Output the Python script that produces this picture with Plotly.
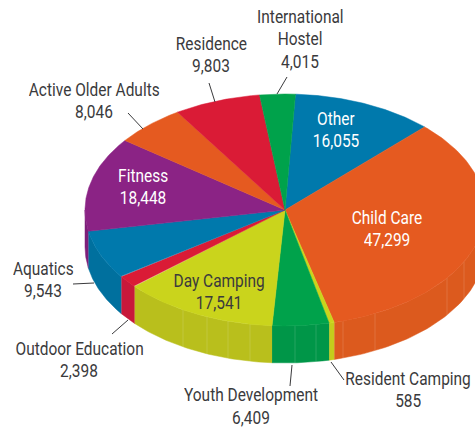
import numpy as np
import plotly.graph_objects as go

categories = ["Other", "Child Care", "Resident Camping", "Youth Development", "Day Camping",
              "Outdoor Education", "Aquatics", "Fitness", "Active Older Adults", "Residence",
              "International Hostel"]
values = [16055, 47299, 585, 6409, 17541, 2398, 9543, 18448, 8046, 9803, 4015]
top_colors = ["#0079AC", "#E55A20", "#CAD41C", "#00A24B", "#CAD41C", "#DA1B36",
              "#0079AC", "#8B2385", "#E55A20", "#DA1B36", "#00A24B"]
side_colors = ["#00709E", "#DC5A1E", "#C4CC1C", "#009648", "#B9BF1C", "#C8183A",
               "#00709E", "#7E1F7A", "#DC5A1E", "#C8183A", "#009648"]
label_lines = {
    "Other": ["Other", "16,055"], "Child Care": ["Child Care", "47,299"],
    "Resident Camping": ["Resident Camping", "585"], "Youth Development": ["Youth Development", "6,409"],
    "Day Camping": ["Day Camping", "17,541"], "Outdoor Education": ["Outdoor Education", "2,398"],
    "Aquatics": ["Aquatics", "9,543"], "Fitness": ["Fitness", "18,448"],
    "Active Older Adults": ["Active Older Adults", "8,046"], "Residence": ["Residence", "9,803"],
    "International Hostel": ["International", "Hostel", "4,015"],
}
label_pos = {
    "Other": (336, 130, "#FFFFFF"), "Child Care": (387, 229, "#FFFFFF"),
    "Resident Camping": (408, 390, "#3A3A3C"), "Youth Development": (251, 406.5, "#3A3A3C"),
    "Day Camping": (219, 292, "#3A3A3C"), "Outdoor Education": (79, 360, "#3A3A3C"),
    "Aquatics": (43, 280, "#3A3A3C"), "Fitness": (143, 187, "#FFFFFF"),
    "Active Older Adults": (94, 101, "#3A3A3C"), "Residence": (211, 55, "#3A3A3C"),
    "International Hostel": (300, 39, "#3A3A3C"),
}
leaders = [(287, 77, 277, 94), (209, 83, 215, 102), (128, 113, 143, 129), (73, 284, 94, 283),
           (112, 334, 128, 320), (292, 365, 290, 386), (331, 362, 344, 380)]
seam_x = [183, 207, 228, 250, 295, 316, 343, 375, 447, 464]

CX, CY, RX, RY, DEPTH, START = 285, 210, 200, 116, 37, 3.0
LINE_GAP = 22.5


def px(t):
    return CX + RX * np.sin(np.radians(t))


def py(t):
    return CY - RY * np.cos(np.radians(t))


fig = go.Figure()
edges = START + np.concatenate([[0], np.cumsum(values)]) / sum(values) * 360

for i, c in enumerate(side_colors):
    a, b = max(edges[i], 90), min(edges[i + 1], 270)
    if b <= a:
        continue
    t = np.linspace(a, b, 60)
    xs = np.concatenate([px(t), px(t[::-1])])
    ys = np.concatenate([py(t), py(t[::-1]) + DEPTH])
    fig.add_trace(go.Scatter(x=xs, y=ys, mode="lines", fill="toself", fillcolor=c,
                             line=dict(color=c, width=0.5), hoverinfo="skip"))

for sx in seam_x:
    dy = RY * np.sqrt(1 - ((sx - CX) / RX) ** 2)
    fig.add_trace(go.Scatter(x=[sx, sx], y=[CY + dy, CY + dy + DEPTH], mode="lines",
                             line=dict(color="rgba(255,255,255,0.18)", width=0.8), hoverinfo="skip"))

for i, c in enumerate(top_colors):
    t = np.linspace(edges[i], edges[i + 1], 120)
    xs = np.concatenate([[CX], px(t), [CX]])
    ys = np.concatenate([[CY], py(t), [CY]])
    fig.add_trace(go.Scatter(x=xs, y=ys, mode="lines", fill="toself", fillcolor=c,
                             line=dict(color=c, width=0.5), hoverinfo="skip"))

for name in categories:
    x, y, color = label_pos[name]
    lines = label_lines[name]
    for k, line in enumerate(lines):
        fig.add_annotation(x=x, y=y + (k - (len(lines) - 1) / 2) * LINE_GAP, xref="x", yref="y",
                           text=line, showarrow=False, align="center",
                           xanchor="center", yanchor="middle", borderpad=0, height=22,
                           font=dict(family="Roboto", size=18, color=color))

for x0, y0, x1, y1 in leaders:
    fig.add_shape(type="line", x0=x0, y0=y0, x1=x1, y1=y1, xref="x", yref="y",
                  line=dict(color="#3A3A3C", width=1))

fig.update_layout(width=475, height=429, margin=dict(l=0, r=0, t=0, b=0),
                  paper_bgcolor="white", plot_bgcolor="white", showlegend=False,
                  xaxis=dict(range=[0, 475], visible=False, fixedrange=True),
                  yaxis=dict(range=[429, 0], visible=False, fixedrange=True))
css = ".annotation-text{transform-box:fill-box;transform-origin:center;transform:scaleX(0.86);}"
fig.write_html("out.html", config={"displayModeBar": False},
               post_script="document.body.style.margin='0';"
                           "var s=document.createElement('style');s.textContent='" + css + "';"
                           "document.head.appendChild(s);")
